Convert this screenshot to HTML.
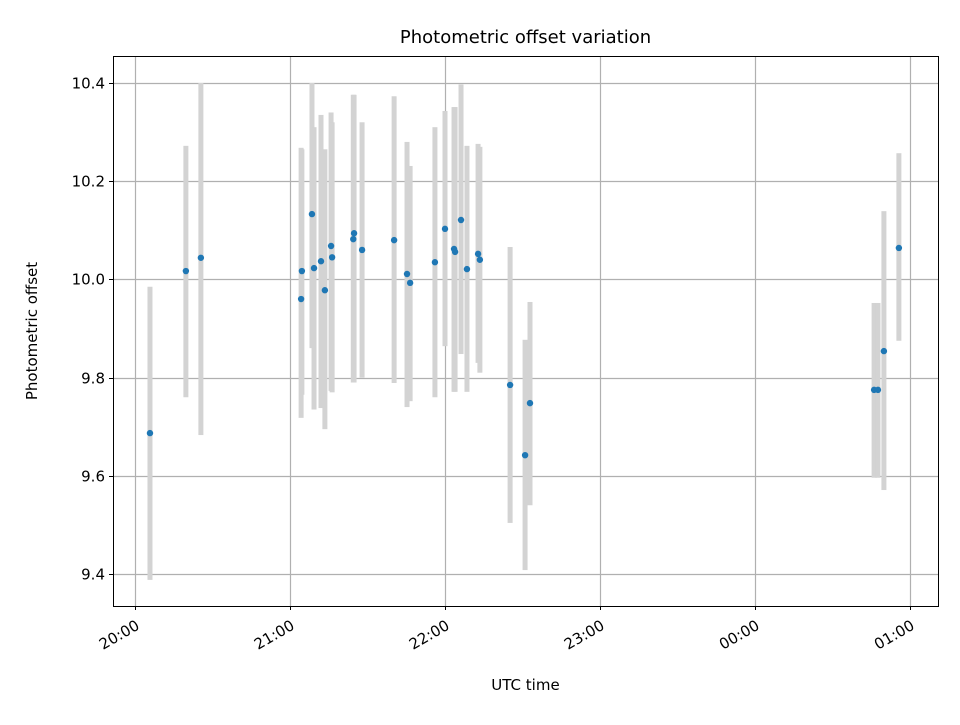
<!DOCTYPE html>
<html><head><meta charset="utf-8"><style>
body{margin:0;background:#fff;font-family:"Liberation Sans","DejaVu Sans",sans-serif}
</style></head><body>
<svg id="chart" width="960" height="720" xmlns="http://www.w3.org/2000/svg" font-family="DejaVu Sans, Liberation Sans, sans-serif">
<rect width="960" height="720" fill="#fff"/>
<g id="grid"></g><g id="bars"></g><g id="dots"></g><g id="axes"></g>
</svg>
<script>
const timesMin=[5.8,19.7,25.5,64.3,64.6,68.5,69.3,72.0,73.5,75.9,76.3,84.8,84.5,87.9,100.3,105.3,106.5,116.1,120.0,123.5,123.9,126.2,128.5,132.8,133.5,145.2,151.0,152.9,286.1,287.6,289.9,295.7];
const values=[9.687,10.017,10.044,9.96,10.017,10.133,10.023,10.037,9.978,10.068,10.045,10.094,10.082,10.06,10.08,10.011,9.993,10.035,10.103,10.062,10.056,10.121,10.021,10.052,10.04,9.785,9.642,9.748,9.775,9.775,9.854,10.064];
const lower=[9.388,9.760,9.683,9.718,9.765,9.86,9.735,9.738,9.695,9.773,9.77,9.79,9.79,9.80,9.789,9.74,9.752,9.76,9.864,9.771,9.771,9.848,9.771,9.83,9.81,9.504,9.408,9.54,9.596,9.596,9.571,9.875];
const upper=[9.985,10.272,10.40,10.268,10.265,10.40,10.31,10.335,10.265,10.34,10.32,10.376,10.376,10.32,10.373,10.28,10.231,10.31,10.343,10.351,10.351,10.397,10.272,10.276,10.27,10.066,9.877,9.954,9.952,9.952,10.139,10.257];
const yTicks=[9.4,9.6,9.8,10.0,10.2,10.4];
const xTickMin=[0,60,120,180,240,300];
const xTickLabels=["20:00","21:00","22:00","23:00","00:00","01:00"];
const L=113,R=938,T=56,B=606;
const xs=m=>135+m*155/60;
const ys=v=>574-(v-9.4)*491;
const NS="http://www.w3.org/2000/svg";
function mk(tag,attrs,parent,text){const e=document.createElementNS(NS,tag);for(const k in attrs)e.setAttribute(k,attrs[k]);if(text!==undefined)e.textContent=text;parent.appendChild(e);return e;}
const grid=document.getElementById('grid'),bars=document.getElementById('bars'),dots=document.getElementById('dots'),axes=document.getElementById('axes');
yTicks.forEach(v=>{const y=Math.round(ys(v))+0.5;
const g=mk('line',{x1:L,x2:R,y1:y,y2:y,stroke:'#b0b0b0','stroke-width':1.2},grid);


mk('line',{x1:L-4,x2:L,y1:y,y2:y,stroke:'#000'},axes);
const t=mk('text',{x:L-8,y:y+5,'text-anchor':'end','font-size':15},axes,v.toFixed(1));

});
xTickMin.forEach((m,i)=>{const x=Math.round(xs(m))+0.5;
const g=mk('line',{x1:x,x2:x,y1:T,y2:B,stroke:'#b0b0b0','stroke-width':1.2},grid);


mk('line',{x1:x,x2:x,y1:B,y2:B+4,stroke:'#000'},axes);
const tx=x-1,ty=B+24;
const t=mk('text',{x:tx,y:ty,'text-anchor':'end','font-size':15,transform:`rotate(-30 ${tx} ${ty-12})`},axes,xTickLabels[i]);

});
timesMin.forEach((m,i)=>{const x=xs(m);
const b=mk('rect',{x:x-2.5,y:ys(upper[i]),width:5,height:ys(lower[i])-ys(upper[i]),fill:'#d3d3d3'},bars);

});
timesMin.forEach((m,i)=>{
const c=mk('circle',{cx:xs(m),cy:ys(values[i]),r:3.2,fill:'#1f77b4'},dots);

});
const f=mk('rect',{x:L+0.5,y:T+0.5,width:R-L,height:B-T,fill:'none',stroke:'#000','stroke-width':1},axes);


const tt=mk('text',{x:(L+R)/2,y:43,'text-anchor':'middle','font-size':18},axes,'Photometric offset variation');


const xl=mk('text',{x:(L+R)/2,y:690,'text-anchor':'middle','font-size':15},axes,'UTC time');


const yl=mk('text',{x:37,y:331,'text-anchor':'middle','font-size':15,transform:'rotate(-90 37 331)'},axes,'Photometric offset');


</script>
</body></html>
